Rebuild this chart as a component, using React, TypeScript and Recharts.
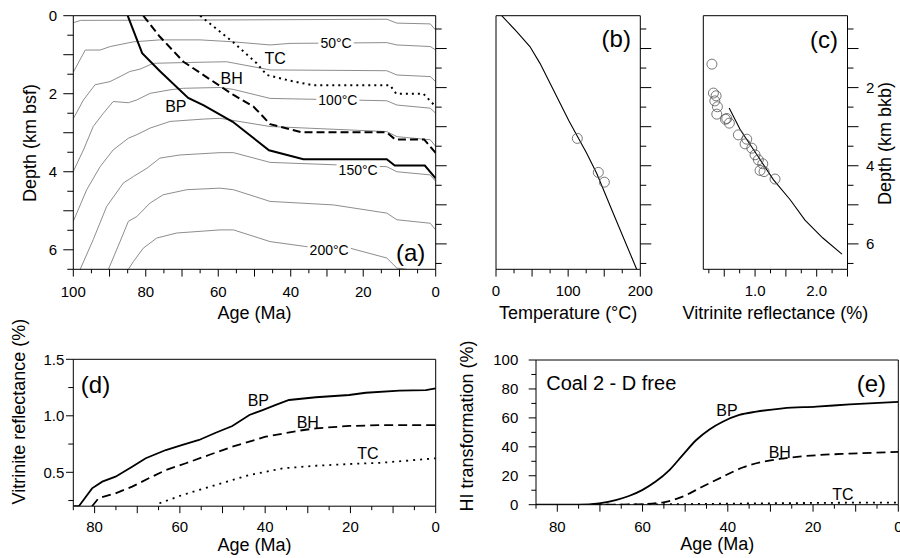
import React from 'react';
import { ComposedChart, Line, Scatter, XAxis, YAxis, ReferenceDot } from 'recharts';

const W = 900;
const H = 558;
const FONT = '"Liberation Sans", Arial, Helvetica, sans-serif';
const INK = '#000';
const ISO = '#707070';

// ---------------- data ----------------
// (a) isotherms: [age (Ma), depth (km bsf)]
const isothermTemps = [25, 50, 75, 100, 125, 150, 175, 200];
const iso25 = [[100, 0.18], [98, 0.12], [60, 0.11], [13.5, 0.09], [10.7, 0.19], [1.5, 0.21], [0, 0.37]];
const iso50 = [[100, 1.45], [96.7, 0.88], [92.6, 0.88], [89.8, 0.79], [83.4, 0.67], [76.1, 0.62], [65, 0.62], [55.8, 0.67], [45.7, 0.75], [40.2, 0.71], [13.5, 0.69], [10.7, 0.75], [1.5, 0.79], [0, 0.88]];
const iso75 = [[100, 2.64], [97.2, 2.16], [94, 1.77], [89.9, 1.69], [87.1, 1.56], [84.4, 1.43], [81.6, 1.37], [77.9, 1.22], [68.7, 1.2], [57.7, 1.18], [45.7, 1.39], [13.5, 1.41], [10.7, 1.52], [1.5, 1.56], [0, 1.69]];
const iso100 = [[100, 3.99], [97.2, 3.44], [94.5, 2.84], [91.7, 2.5], [89, 2.2], [84.8, 2.23], [82.5, 2.16], [78.8, 1.99], [73.3, 1.9], [69.6, 1.86], [59.5, 1.84], [55.8, 1.89], [45.7, 2.12], [13.5, 2.18], [10.7, 2.29], [1.5, 2.37], [0, 2.5]];
const iso125 = [[100, 5.27], [96.3, 4.46], [92.6, 3.87], [89, 3.44], [84.8, 3.14], [82.5, 3.05], [78.8, 2.88], [73.3, 2.71], [64.1, 2.65], [59.5, 2.63], [45.7, 2.84], [13.5, 2.97], [10.7, 3.1], [1.5, 3.18], [0, 3.35]];
const iso150 = [[98.1, 6.5], [94.5, 5.74], [90.8, 4.89], [86.2, 4.29], [83.4, 4.12], [79.7, 3.91], [76.1, 3.65], [70.6, 3.57], [59.5, 3.51], [55.8, 3.51], [45.7, 3.76], [13.5, 3.87], [10.7, 4.0], [1.5, 4.08], [0, 4.25]];
const iso175 = [[90.3, 6.5], [87.1, 5.79], [84.8, 5.27], [82.5, 5.15], [78.8, 4.8], [75.2, 4.59], [68.7, 4.46], [59.5, 4.42], [55.8, 4.46], [45.7, 4.76], [28.2, 4.85], [13.5, 5.06], [10.7, 5.23], [1.5, 5.32], [0, 5.49]];
const iso200 = [[84.8, 6.5], [83.4, 6.3], [80.7, 5.96], [77, 5.7], [71.5, 5.57], [59.5, 5.49], [55.8, 5.49], [45.7, 5.79], [35.6, 5.92], [23.6, 5.96], [13.5, 6.21], [10.7, 6.47], [8, 6.5]];
const isotherms = [iso25, iso50, iso75, iso100, iso125, iso150, iso175, iso200];

// (a) burial paths: [age (Ma), depth (km bsf)]
const burialBP = [[85, 0], [81, 0.96], [76, 1.43], [68.3, 2.11], [64, 2.3], [56, 2.72], [46, 3.45], [36.5, 3.68], [13.5, 3.68], [11.3, 3.84], [3, 3.84], [0, 4.17]];
const burialBH = [[80.7, 0], [76.1, 0.54], [69.6, 1.18], [58.6, 1.86], [55.8, 2.03], [50.3, 2.33], [48.5, 2.5], [45.7, 2.78], [37, 2.99], [13.5, 2.99], [11.2, 3.17], [3.2, 3.17], [0, 3.52]];
const burialTC = [[65, 0], [56, 0.67], [49.4, 1.22], [46.6, 1.52], [40, 1.67], [34, 1.78], [12.6, 1.78], [10.9, 2.0], [3.4, 2.0], [0, 2.33]];

// (b) temperature (°C) vs depth (km bkb)
const tempModel = [[7.9, 0.16], [28.7, 0.57], [47, 0.95], [61, 1.38], [101, 2.85], [125.7, 3.68], [139.5, 4.19], [162.6, 5.22], [195, 6.65]];
const tempObs = [[112.7, 3.3], [141.8, 4.17], [150.2, 4.42]];

// (c) vitrinite reflectance (%) vs depth (km bkb)
const roModel = [[0.58, 2.52], [0.76, 3.08], [1.03, 3.72], [1.3, 4.36], [1.57, 4.87], [1.81, 5.39], [2.1, 5.85], [2.41, 6.26]];
const roObs = [[0.3, 1.4], [0.324, 2.14], [0.368, 2.21], [0.347, 2.34], [0.389, 2.49], [0.379, 2.68], [0.519, 2.81], [0.541, 2.79], [0.583, 2.91], [0.729, 3.21], [0.865, 3.32], [0.838, 3.44], [0.947, 3.55], [1.0, 3.72], [1.053, 3.85], [1.125, 3.95], [1.081, 4.12], [1.146, 4.15], [1.324, 4.34]];

// (d) vitrinite reflectance (%) vs age (Ma)
const vrBP = [[85, 0.2], [83.7, 0.2], [80.6, 0.358], [78.2, 0.417], [75.1, 0.461], [71.2, 0.55], [68, 0.624], [63.3, 0.697], [59.4, 0.742], [55.5, 0.786], [51.6, 0.85], [47.7, 0.91], [43.7, 1.007], [40.6, 1.051], [37.5, 1.096], [34.4, 1.14], [28.1, 1.164], [20.3, 1.184], [16.4, 1.204], [8.5, 1.222], [2.3, 1.228], [0, 1.243]];
const vrBH = [[80.6, 0.2], [79.1, 0.27], [75.1, 0.314], [71.2, 0.373], [67.3, 0.447], [63.3, 0.52], [58.6, 0.58], [53.2, 0.653], [47.7, 0.727], [39.9, 0.815], [32.1, 0.868], [28.1, 0.889], [20.3, 0.91], [12.5, 0.918], [0, 0.918]];
const vrTC = [[64.8, 0.226], [59.4, 0.299], [51.6, 0.388], [43.7, 0.476], [35.9, 0.535], [28.1, 0.558], [20.3, 0.573], [12.5, 0.585], [0, 0.624]];

// (e) HI transformation (%) vs age (Ma)
const hiBP = [[85, 0], [75, 0], [70.2, 0.9], [66.3, 3.2], [63.2, 6], [60.1, 10.1], [57, 15.8], [53.7, 23.9], [50.6, 34.3], [47.4, 44.7], [44.3, 52], [41.2, 57.3], [37.3, 62], [33.3, 64.3], [27.1, 66.6], [19.2, 67.8], [11.4, 69.3], [0, 71]];
const hiBH = [[72, 0], [62, 0.2], [55.4, 1.5], [50.6, 5.6], [46, 12.4], [41.2, 19.3], [36.5, 25.7], [31.8, 29.6], [27.1, 31.9], [19.2, 34.2], [11.4, 35.3], [0, 36.5]];
const hiTC = [[70, 0], [55, 0.3], [40, 0.7], [25, 1.1], [10, 1.4], [0, 1.5]];

// ---------------- ticks ----------------
const ageTicksA = [100, 95, 90, 85, 80, 75, 70, 65, 60, 55, 50, 45, 40, 35, 30, 25, 20, 15, 10, 5, 0];
const ageMajorA = [100, 90, 80, 70, 60, 50, 40, 30, 20, 10, 0];
const ageLabelsA = [100, 80, 60, 40, 20, 0];
const bsfTicks = [0, 0.5, 1, 1.5, 2, 2.5, 3, 3.5, 4, 4.5, 5, 5.5, 6, 6.5];
const bsfMajor = [0, 1, 2, 3, 4, 5, 6];
const bsfLabels = [0, 2, 4, 6];
const bkbTicks = [0.5, 1, 1.5, 2, 2.5, 3, 3.5, 4, 4.5, 5, 5.5, 6, 6.5];
const bkbMajor = [1, 2, 3, 4, 5, 6];
const bkbLabels = [2, 4, 6];
const tempTicks = [0, 25, 50, 75, 100, 125, 150, 175, 200];
const tempMajor = [0, 50, 100, 150, 200];
const tempLabels = [0, 100, 200];
const roTicks = [0.25, 0.5, 0.75, 1, 1.25, 1.5, 1.75, 2, 2.25, 2.5];
const roMajor = [0.5, 1, 1.5, 2, 2.5];
const roLabels = [1, 2];
const ageTicksB = [85, 80, 75, 70, 65, 60, 55, 50, 45, 40, 35, 30, 25, 20, 15, 10, 5, 0];
const ageMajorB = [80, 70, 60, 50, 40, 30, 20, 10, 0];
const ageLabelsB = [80, 60, 40, 20, 0];
const vrTicks = [0.25, 0.5, 0.75, 1, 1.25, 1.5];
const vrMajor = [0.5, 1, 1.5];
const vrLabels = [0.5, 1, 1.5];
const hiTicks = [0, 10, 20, 30, 40, 50, 60, 70, 80, 90, 100];
const hiMajor = [0, 20, 40, 60, 80, 100];
const hiLabels = [0, 20, 40, 60, 80, 100];

// ---------------- layout ----------------
type Box = { l: number; r: number; t: number; b: number };
const BOX_A: Box = { l: 73.3, r: 435.7, t: 15.7, b: 269.3 };
const BOX_B: Box = { l: 496, r: 640.3, t: 15.7, b: 269.3 };
const BOX_C: Box = { l: 703.3, r: 847.5, t: 15.7, b: 269.3 };
const BOX_D: Box = { l: 73.3, r: 435.7, t: 359.3, b: 506.2 };
const BOX_E: Box = { l: 536, r: 898.3, t: 360, b: 504.7 };
// every axis takes 1px of room (axes of size 0 are not drawn)
const AS = 1;
const mg = (b: Box) => ({ left: b.l - AS, right: W - b.r - AS, top: b.t - AS, bottom: H - b.b - AS });

const toXY = (a: number[][]) => a.map(([x, y]) => ({ x, y }));

type TickOpts = {
  side: 'bottom' | 'left' | 'right';
  longs: number[];
  labels?: number[];
  longLen: number;
  shortLen: number;
  gap?: number;
  fmt?: (v: number) => string;
};
const has = (arr: number[] | undefined, v: number) => !!arr && arr.some((a) => Math.abs(a - v) < 1e-6);
const makeTick = (o: TickOpts) => (p: any) => {
  const x = Number(p.x);
  const y = Number(p.y);
  const v = Number(p.payload ? p.payload.value : NaN);
  const len = has(o.longs, v) ? o.longLen : o.shortLen;
  const txt = has(o.labels, v) ? (o.fmt ? o.fmt(v) : String(v)) : null;
  const tp = { fontSize: 15, fontFamily: FONT, fill: INK };
  if (o.side === 'bottom') {
    return (
      <g>
        <line x1={x} y1={y} x2={x} y2={y + len} stroke={INK} strokeWidth={1} />
        {txt !== null && (
          <text x={x} y={y + (o.gap ?? 27)} textAnchor="middle" {...tp}>{txt}</text>
        )}
      </g>
    );
  }
  if (o.side === 'left') {
    return (
      <g>
        <line x1={x - len} y1={y} x2={x} y2={y} stroke={INK} strokeWidth={1} />
        {txt !== null && (
          <text x={x - (o.gap ?? 16)} y={y + 5.3} textAnchor="end" {...tp}>{txt}</text>
        )}
      </g>
    );
  }
  return (
    <g>
      <line x1={x} y1={y} x2={x + len} y2={y} stroke={INK} strokeWidth={1} />
      {txt !== null && (
        <text x={x + (o.gap ?? 18)} y={y + 5.3} textAnchor="start" {...tp}>{txt}</text>
      )}
    </g>
  );
};

const tickAgeA = makeTick({ side: 'bottom', longs: ageMajorA, labels: ageLabelsA, longLen: 7.3, shortLen: 4, gap: 27.4 });
const tickBsfLab = makeTick({ side: 'left', longs: bsfMajor, labels: bsfLabels, longLen: 10, shortLen: 6, gap: 16.3 });
const tickBsf = makeTick({ side: 'left', longs: bsfMajor, longLen: 10, shortLen: 6 });
const tickBkb = makeTick({ side: 'right', longs: bkbMajor, longLen: 11, shortLen: 6 });
const tickBkbLab = makeTick({ side: 'right', longs: bkbMajor, labels: bkbLabels, longLen: 11, shortLen: 6, gap: 18.5 });
const tickTemp = makeTick({ side: 'bottom', longs: tempMajor, labels: tempLabels, longLen: 7.3, shortLen: 4, gap: 26.8 });
const tickRo = makeTick({ side: 'bottom', longs: roMajor, labels: roLabels, longLen: 7.3, shortLen: 4, gap: 26.8, fmt: (v) => v.toFixed(1) });
const tickAgeD = makeTick({ side: 'bottom', longs: ageMajorB, labels: ageLabelsB, longLen: 7, shortLen: 4, gap: 25.3 });
const tickVr = makeTick({ side: 'left', longs: vrMajor, labels: vrLabels, longLen: 7.3, shortLen: 5, gap: 9, fmt: (v) => v.toFixed(1) });
const tickAgeE = makeTick({ side: 'bottom', longs: ageMajorB, labels: ageLabelsB, longLen: 7, shortLen: 4, gap: 27 });
const tickHi = makeTick({ side: 'left', longs: hiMajor, labels: hiLabels, longLen: 7.3, shortLen: 4.7, gap: 17.7 });

const tag = (txt: string, fs: number, opts: { bg?: boolean; anchor?: 'start' | 'middle' } = {}) => (p: any) => {
  const cx = Number(p.cx);
  const cy = Number(p.cy);
  const w = txt.length * fs * 0.56 + 4;
  const h = fs * 0.9;
  return (
    <g>
      {opts.bg && <rect x={cx - w / 2} y={cy - h / 2} width={w} height={h} fill="#fff" />}
      <text x={cx} y={cy} dy="0.35em" textAnchor={opts.anchor ?? 'middle'} fontSize={fs} fontFamily={FONT} fill={INK}>
        {txt}
      </text>
    </g>
  );
};

const lineBase = { dot: false as const, isAnimationActive: false, type: 'linear' as const, dataKey: 'y', activeDot: false as const };
const smoothBase = { ...lineBase, type: 'monotone' as const };
const axisLine = { stroke: INK, strokeWidth: 1 };
const noTickAxis = { tick: false as const, tickLine: false, axisLine };
const tk = { interval: 0 as const, tickSize: 0, tickMargin: 0, tickLine: false, axisLine };

const circleShape = (p: any) => (
  <circle cx={p.cx} cy={p.cy} r={5} fill="none" stroke="#555" strokeWidth={0.8} />
);

const abs: React.CSSProperties = { position: 'absolute', left: 0, top: 0 };

export default function App() {
  return (
    <div style={{ position: 'absolute', left: 0, top: 0, width: W, height: H, background: '#fff', fontFamily: FONT, overflow: 'hidden' }}>
      {/* (a) */}
      <div style={abs}>
        <ComposedChart width={W} height={H} margin={mg(BOX_A)}>
          <XAxis xAxisId="age" dataKey="x" type="number" domain={[0, 100]} reversed allowDataOverflow ticks={ageTicksA} height={AS} tick={tickAgeA} {...tk} />
          <XAxis xAxisId="top" orientation="top" dataKey="x" type="number" domain={[0, 100]} reversed height={AS} {...noTickAxis} />
          <YAxis yAxisId="bsf" dataKey="y" type="number" domain={[0, 6.5]} reversed allowDataOverflow ticks={bsfTicks} width={AS} tick={tickBsfLab} {...tk} />
          <YAxis yAxisId="bkb" orientation="right" dataKey="y" type="number" domain={[0.16, 6.65]} reversed allowDataOverflow ticks={bkbTicks} width={AS} tick={tickBkb} {...tk} />
          {isotherms.map((s, i) => (
            <Line key={'iso' + isothermTemps[i]} xAxisId="age" yAxisId="bsf" data={toXY(s)} stroke={ISO} strokeWidth={0.8} {...lineBase} />
          ))}
          <Line xAxisId="age" yAxisId="bsf" data={toXY(burialTC)} stroke={INK} strokeWidth={2} strokeDasharray="2 4" {...lineBase} />
          <Line xAxisId="age" yAxisId="bsf" data={toXY(burialBH)} stroke={INK} strokeWidth={2} strokeDasharray="8 4" {...lineBase} />
          <Line xAxisId="age" yAxisId="bsf" data={toXY(burialBP)} stroke={INK} strokeWidth={2} {...lineBase} />
          <ReferenceDot xAxisId="age" yAxisId="bsf" x={27.5} y={0.71} shape={tag('50°C', 14, { bg: true })} />
          <ReferenceDot xAxisId="age" yAxisId="bsf" x={27} y={2.16} shape={tag('100°C', 14, { bg: true })} />
          <ReferenceDot xAxisId="age" yAxisId="bsf" x={21.4} y={3.95} shape={tag('150°C', 14, { bg: true })} />
          <ReferenceDot xAxisId="age" yAxisId="bsf" x={29.4} y={6.0} shape={tag('200°C', 14, { bg: true })} />
          <ReferenceDot xAxisId="age" yAxisId="bsf" x={44.3} y={1.1} shape={tag('TC', 16)} />
          <ReferenceDot xAxisId="age" yAxisId="bsf" x={56.3} y={1.61} shape={tag('BH', 16)} />
          <ReferenceDot xAxisId="age" yAxisId="bsf" x={71.7} y={2.33} shape={tag('BP', 16)} />
          <ReferenceDot xAxisId="age" yAxisId="bsf" x={6.9} y={6.06} shape={tag('(a)', 24)} />
        </ComposedChart>
      </div>

      {/* (b) */}
      <div style={abs}>
        <ComposedChart width={W} height={H} margin={mg(BOX_B)}>
          <XAxis xAxisId="t" dataKey="x" type="number" domain={[0, 200]} allowDataOverflow ticks={tempTicks} height={AS} tick={tickTemp} {...tk} />
          <XAxis xAxisId="top" orientation="top" dataKey="x" type="number" domain={[0, 200]} height={AS} {...noTickAxis} />
          <YAxis yAxisId="bsf" dataKey="y" type="number" domain={[0, 6.5]} reversed ticks={bsfTicks} width={AS} tick={tickBsf} {...tk} />
          <YAxis yAxisId="bkb" orientation="right" dataKey="y" type="number" domain={[0.16, 6.65]} reversed allowDataOverflow ticks={bkbTicks} width={AS} tick={tickBkb} {...tk} />
          <Line xAxisId="t" yAxisId="bkb" data={toXY(tempModel)} stroke={INK} strokeWidth={1.1} {...lineBase} />
          <Scatter xAxisId="t" yAxisId="bkb" data={toXY(tempObs)} shape={circleShape} isAnimationActive={false} />
          <ReferenceDot xAxisId="t" yAxisId="bkb" x={166.7} y={0.755} shape={tag('(b)', 24)} />
        </ComposedChart>
      </div>

      {/* (c) */}
      <div style={abs}>
        <ComposedChart width={W} height={H} margin={mg(BOX_C)}>
          <XAxis xAxisId="r" dataKey="x" type="number" domain={[0.16, 2.5]} allowDataOverflow ticks={roTicks} height={AS} tick={tickRo} {...tk} />
          <XAxis xAxisId="top" orientation="top" dataKey="x" type="number" domain={[0.16, 2.5]} height={AS} {...noTickAxis} />
          <YAxis yAxisId="bsf" dataKey="y" type="number" domain={[0, 6.5]} reversed ticks={bsfTicks} width={AS} tick={tickBsf} {...tk} />
          <YAxis yAxisId="bkb" orientation="right" dataKey="y" type="number" domain={[0.16, 6.65]} reversed allowDataOverflow ticks={bkbTicks} width={AS} tick={tickBkbLab} {...tk} />
          <Line xAxisId="r" yAxisId="bkb" data={toXY(roModel)} stroke={INK} strokeWidth={1.1} {...lineBase} />
          <Scatter xAxisId="r" yAxisId="bkb" data={toXY(roObs)} shape={circleShape} isAnimationActive={false} />
          <ReferenceDot xAxisId="r" yAxisId="bkb" x={2.118} y={0.763} shape={tag('(c)', 24)} />
        </ComposedChart>
      </div>

      {/* (d) */}
      <div style={abs}>
        <ComposedChart width={W} height={H} margin={mg(BOX_D)}>
          <XAxis xAxisId="age" dataKey="x" type="number" domain={[0, 85]} reversed allowDataOverflow ticks={ageTicksB} height={AS} tick={tickAgeD} {...tk} />
          <XAxis xAxisId="top" orientation="top" dataKey="x" type="number" domain={[0, 85]} reversed height={AS} {...noTickAxis} />
          <YAxis yAxisId="v" dataKey="y" type="number" domain={[0.2, 1.5]} allowDataOverflow ticks={vrTicks} width={AS} tick={tickVr} {...tk} />
          <YAxis yAxisId="rt" orientation="right" dataKey="y" type="number" domain={[0.2, 1.5]} width={AS} {...noTickAxis} />
          <Line xAxisId="age" yAxisId="v" data={toXY(vrTC)} stroke={INK} strokeWidth={1.8} strokeDasharray="2 5" {...lineBase} />
          <Line xAxisId="age" yAxisId="v" data={toXY(vrBH)} stroke={INK} strokeWidth={1.8} strokeDasharray="9 5" {...lineBase} />
          <Line xAxisId="age" yAxisId="v" data={toXY(vrBP)} stroke={INK} strokeWidth={1.8} {...lineBase} />
          <ReferenceDot xAxisId="age" yAxisId="v" x={41.6} y={1.14} shape={tag('BP', 16)} />
          <ReferenceDot xAxisId="age" yAxisId="v" x={30} y={0.942} shape={tag('BH', 16)} />
          <ReferenceDot xAxisId="age" yAxisId="v" x={15.9} y={0.668} shape={tag('TC', 16)} />
          <ReferenceDot xAxisId="age" yAxisId="v" x={79.8} y={1.28} shape={tag('(d)', 24)} />
        </ComposedChart>
      </div>

      {/* (e) */}
      <div style={abs}>
        <ComposedChart width={W} height={H} margin={mg(BOX_E)}>
          <XAxis xAxisId="age" dataKey="x" type="number" domain={[0, 85]} reversed allowDataOverflow ticks={ageTicksB} height={AS} tick={tickAgeE} {...tk} />
          <XAxis xAxisId="top" orientation="top" dataKey="x" type="number" domain={[0, 85]} reversed height={AS} {...noTickAxis} />
          <YAxis yAxisId="v" dataKey="y" type="number" domain={[0, 100]} allowDataOverflow ticks={hiTicks} width={AS} tick={tickHi} {...tk} />
          <YAxis yAxisId="rt" orientation="right" dataKey="y" type="number" domain={[0, 100]} width={AS} {...noTickAxis} />
          <Line xAxisId="age" yAxisId="v" data={toXY(hiTC)} stroke={INK} strokeWidth={1.8} strokeDasharray="2 5" {...smoothBase} />
          <Line xAxisId="age" yAxisId="v" data={toXY(hiBH)} stroke={INK} strokeWidth={1.8} strokeDasharray="9 5" {...smoothBase} />
          <Line xAxisId="age" yAxisId="v" data={toXY(hiBP)} stroke={INK} strokeWidth={1.8} {...smoothBase} />
          <ReferenceDot xAxisId="age" yAxisId="v" x={40.2} y={65} shape={tag('BP', 16)} />
          <ReferenceDot xAxisId="age" yAxisId="v" x={27.8} y={36.4} shape={tag('BH', 16)} />
          <ReferenceDot xAxisId="age" yAxisId="v" x={13} y={7.4} shape={tag('TC', 16)} />
          <ReferenceDot xAxisId="age" yAxisId="v" x={82.6} y={83.9} shape={tag('Coal 2 - D free', 20, { anchor: 'start' })} />
          <ReferenceDot xAxisId="age" yAxisId="v" x={6.3} y={83.4} shape={tag('(e)', 24)} />
        </ComposedChart>
      </div>

      {/* axis titles */}
      <svg width={W} height={H} style={abs}>
        <g fontFamily={FONT} fontSize={18} fill={INK}>
          <text x={254.5} y={318.5} textAnchor="middle">Age (Ma)</text>
          <text x={568.2} y={318.5} textAnchor="middle">Temperature (°C)</text>
          <text x={775.4} y={318.5} textAnchor="middle">Vitrinite reflectance (%)</text>
          <text x={254.5} y={551} textAnchor="middle">Age (Ma)</text>
          <text x={717.2} y={549.6} textAnchor="middle">Age (Ma)</text>
          <text transform="translate(35.6,202) rotate(-90)" textAnchor="start">Depth (km bsf)</text>
          <text transform="translate(891.2,205) rotate(-90)" textAnchor="start">Depth (km bkb)</text>
          <text transform="translate(24.6,504.5) rotate(-90)" textAnchor="start">Vitrinite reflectance (%)</text>
          <text transform="translate(472.9,511.5) rotate(-90)" textAnchor="start">HI transformation (%)</text>
        </g>
      </svg>
    </div>
  );
}
